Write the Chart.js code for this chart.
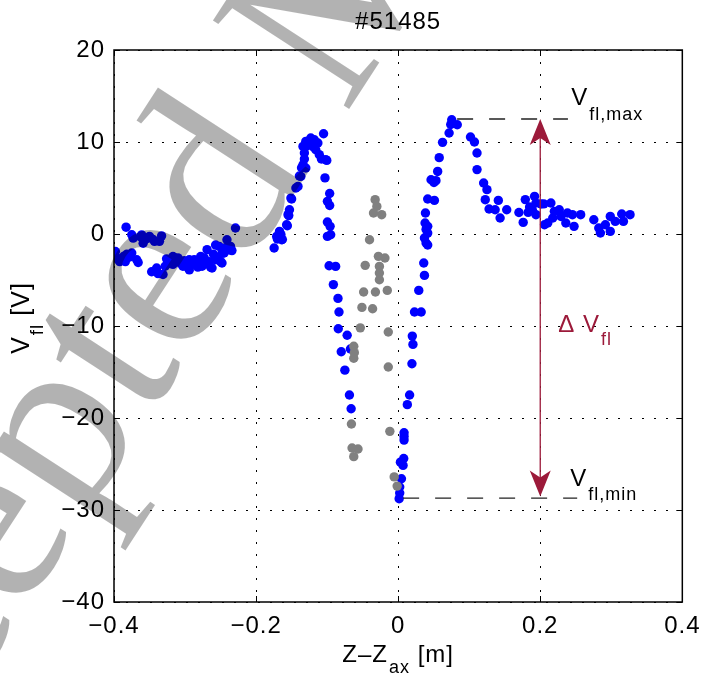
<!DOCTYPE html>
<html><head><meta charset="utf-8">
<script src="https://cdn.jsdelivr.net/npm/chart.js@4.4.0/dist/chart.umd.min.js"></script>
<style>html,body{margin:0;padding:0;background:#fff;overflow:hidden}#wrap{width:709px;height:674px}</style>
</head><body><div id="wrap"><canvas id="c" width="709" height="674"></canvas></div>
<script>
// ---- data ----
const shotTitle = '#51485';
const xTickValues = [-0.4, -0.2, 0, 0.2, 0.4];
const xTickLabels = ['\u22120.4', '\u22120.2', '0', '0.2', '0.4'];
const yTickValues = [-40, -30, -20, -10, 0, 10, 20];
const yTickLabels = ['\u221240', '\u221230', '\u221220', '\u221210', '0', '10', '20'];

const blueZ = [
 -0.398,-0.396,-0.394,-0.392,-0.386,-0.384,-0.383,-0.382,-0.378,-0.375,-0.375,-0.373,-0.368,-0.366,-0.363,-0.361,-0.359,-0.354,-0.350,-0.347,
 -0.345,-0.343,-0.340,-0.338,-0.336,-0.333,-0.331,-0.328,-0.326,-0.324,-0.321,-0.317,-0.315,-0.317,-0.312,-0.310,-0.308,-0.306,-0.303,-0.301,
 -0.299,-0.296,-0.294,-0.294,-0.290,-0.287,-0.285,-0.282,-0.280,-0.278,-0.276,-0.273,-0.270,-0.269,-0.266,-0.264,-0.262,-0.260,-0.257,-0.257,
 -0.255,-0.252,-0.250,-0.248,-0.248,-0.245,-0.243,-0.241,-0.238,-0.236,-0.234,-0.229,
 -0.1746,-0.171,-0.170,-0.167,-0.165,-0.164,-0.163,-0.157,-0.156,-0.155,-0.154,-0.153,-0.151,-0.150,-0.144,-0.141,-0.139,-0.137,-0.136,-0.134,
 -0.134,-0.132,-0.132,-0.130,-0.130,-0.130,-0.126,-0.123,-0.118,-0.120,-0.116,-0.113,-0.111,-0.108,-0.105,-0.102,-0.1005,
 -0.103,-0.0964,-0.0996,-0.0964,-0.0996,-0.0958,-0.0996,-0.095,-0.0972,-0.088,-0.0912,-0.0847,-0.0833,-0.0843,-0.0718,-0.0801,-0.0672,-0.075,-0.0686,-0.0662,
 0.0014,0.0022,0.0022,0.0046,0.0069,0.0032,0.0078,0.0083,0.0083,0.0083,0.0129,0.0161,0.0194,0.0208,0.0199,0.023,0.0324,0.029,0.037,0.036,
 0.0416,0.0393,0.037,0.0416,0.0393,0.0416,0.0379,0.0384,0.0416,0.051,0.0463,0.0532,0.0504,0.0556,0.0578,0.0625,0.0717,0.0740,0.0754,0.0832,
 0.1018,0.1074,0.111,0.111,0.1203,0.125,0.1226,0.141,0.128,0.1365,0.1528,0.1435,
 0.170,0.176,0.179,0.185,0.183,0.189,0.192,0.194,0.201,0.194,0.205,0.206,0.2106,0.215,0.2199,0.2268,0.2176,0.2292,0.2383,0.236,
 0.2476,0.2453,0.2569,0.2754,0.2824,0.2847,0.2917,0.2986,0.2986,0.3056,0.3147,0.3171,0.3264
];
const blueV = [
 -1.9,-2.6,-2.8,-3.0,-2.4,-3.0,0.74,-2.2,-2.5,-2.07,-0.08,-0.45,-2.8,-3.1,-0.3,-0.1,-1.0,-0.5,-0.26,-4.1,
 -0.6,-0.8,-3.7,-4.3,-0.8,-0.2,-4.4,-3.5,-2.7,-2.8,-3.2,-2.45,-2.6,-3.3,-3.0,-2.6,-3.0,-3.2,-3.5,-2.9,
 -3.5,-3.0,-3.9,-2.8,-3.3,-2.8,-3.3,-3.6,-3.1,-2.45,-3.5,-2.6,-3.2,-1.7,-3.0,-3.6,-3.7,-2.2,-1.2,-2.8,
 -2.6,-1.35,-3.0,-2.1,-3.15,-2.07,-1.5,-0.62,-1.71,-1.35,-1.8,0.65,
 -1.52,-0.26,-0.54,0.28,-0.07,-0.62,-0.6,1.0,0.9,2.1,2.0,2.64,3.9,3.8,5.0,5.17,6.3,6.26,7.2,7.53,
 9.52,8.8,8.15,7.17,9.5,10.07,10.1,10.43,10.25,9.5,9.16,9.89,8.62,8.15,10.9,8.08,8.0,
 6.1,4.4,3.55,3.1,1.3,0.83,-0.26,-0.08,-3.45,-3.52,-5.5,-7.0,-8.48,-10.3,-11.0,-12.8,-12.5,-14.8,-17.5,-19.0,
 -28.77,-28.15,-27.5,-26.6,-25.15,-24.8,-24.4,-22.4,-22.0,-21.6,-18.55,-17.5,-14.1,-12.0,-11.1,-8.48,-8.48,-6.13,-4.5,-3.15,
 -1.2,-0.98,-0.43,0.1,0.5,0.83,1.2,2.28,3.8,3.65,5.9,5.8,5.6,6.8,8.3,9.96,10.98,11.9,12.42,11.88,
 10.54,10.0,8.8,7.0,5.54,4.82,3.73,3.65,2.72,2.64,2.64,1.74,
 2.34,1.26,3.74,2.93,2.35,2.57,4.09,3.37,3.26,2.1,3.27,1.01,1.2,3.37,2.46,2.64,1.74,1.91,2.28,1.2,
 0.83,2.1,2.1,1.55,0.65,0.11,1.0,1.91,0.28,1.37,2.17,1.37,2.1
];
const grayZ = [-0.0658,-0.0649,-0.0565,-0.0625,-0.0625,-0.0617,-0.0625,-0.0533,-0.051,-0.036,-0.0486,-0.032,-0.0153,-0.0464,-0.0278,
 -0.0186,-0.0264,-0.0264,-0.0264,-0.0403,-0.0324,-0.030,-0.0347,-0.0232,-0.0139,-0.0139,-0.0117,-0.0056,-0.0014];
const grayV = [-20.65,-23.26,-23.37,-24.2,-12.2,-12.9,-13.5,-10.2,-7.98,-8.12,-6.3,-6.3,-6.13,-3.41,-2.43,
 -2.61,-3.52,-4.24,-4.97,-0.62,3.73,3.0,2.28,2.1,-10.65,-14.46,-21.45,-26.4,-27.4];

const vflMaxValue = 12.5;
const vflMinValue = -28.7;
const maxLineZ = [0.083, 0.239];
const minLineZ = [0.007, 0.252];
const arrowZ = 0.2;
const watermarkText = 'Accepted Manuscript';

// ---- styles ----
const FONT = '"Liberation Sans", Arial, sans-serif';
const SERIF = '"Liberation Serif", Tinos, "Times New Roman", Times, "DejaVu Serif", "Noto Serif", FreeSerif, serif';
const MAROON = '#9c1a3a';

function pts(xs, ys) { return xs.map((x, i) => ({ x: x, y: ys[i] })); }

function drawSub(ctx, x, y, main, sub, rest, size, subSize, drop) {
  ctx.font = size + 'px ' + FONT;
  ctx.fillText(main, x, y);
  x += ctx.measureText(main).width;
  ctx.font = subSize + 'px ' + FONT;
  ctx.fillText(sub, x + 1, y + drop);
  x += ctx.measureText(sub).width + 1;
  if (rest) { ctx.font = size + 'px ' + FONT; ctx.fillText(rest, x, y); }
}
function subWidth(ctx, main, sub, rest, size, subSize) {
  ctx.font = size + 'px ' + FONT;
  let w = ctx.measureText(main).width + (rest ? ctx.measureText(rest).width : 0);
  ctx.font = subSize + 'px ' + FONT;
  return w + ctx.measureText(sub).width + 1;
}

const overlay = {
  id: 'overlay',
  beforeDraw(chart) { chart.ctx.letterSpacing = '1px'; },
  afterDatasetsDraw(chart) {
    const { ctx, chartArea: a, scales: { x, y } } = chart;
    ctx.save();
    ctx.setLineDash([]);
    ctx.strokeStyle = '#000';
    ctx.lineWidth = 1;
    ctx.beginPath();
    xTickValues.forEach(v => {
      const px = Math.round(x.getPixelForValue(v)) + 0.5;
      ctx.moveTo(px, a.bottom); ctx.lineTo(px, a.bottom - 6);
      ctx.moveTo(px, a.top); ctx.lineTo(px, a.top + 6);
    });
    yTickValues.forEach(v => {
      const py = Math.round(y.getPixelForValue(v)) + 0.5;
      ctx.moveTo(a.left, py); ctx.lineTo(a.left + 6, py);
      ctx.moveTo(a.right, py); ctx.lineTo(a.right - 6, py);
    });
    ctx.stroke();
    ctx.lineWidth = 1.5;
    ctx.strokeRect(a.left, a.top, a.right - a.left, a.bottom - a.top);

    ctx.strokeStyle = '#222';
    ctx.lineWidth = 1.3;
    ctx.setLineDash([16, 16]);
    const yMax = y.getPixelForValue(vflMaxValue), yMin = y.getPixelForValue(vflMinValue);
    ctx.beginPath();
    ctx.moveTo(x.getPixelForValue(maxLineZ[0]), yMax); ctx.lineTo(x.getPixelForValue(maxLineZ[1]), yMax);
    ctx.moveTo(x.getPixelForValue(minLineZ[0]), yMin); ctx.lineTo(x.getPixelForValue(minLineZ[1]), yMin);
    ctx.stroke();
    ctx.setLineDash([]);

    const ax = x.getPixelForValue(arrowZ);
    ctx.strokeStyle = MAROON; ctx.fillStyle = MAROON; ctx.lineWidth = 1.3;
    ctx.beginPath(); ctx.moveTo(ax, yMax + 15); ctx.lineTo(ax, yMin - 15); ctx.stroke();
    function head(tx, ty, s) {
      ctx.beginPath(); ctx.moveTo(tx, ty); ctx.lineTo(tx + 10.5, ty + 26 * s);
      ctx.lineTo(tx, ty + 19 * s); ctx.lineTo(tx - 10.5, ty + 26 * s); ctx.closePath(); ctx.fill();
    }
    head(ax, yMax, 1);
    head(ax, yMin - 1.5, -1);
    ctx.restore();
  },
  afterDraw(chart) {
    const { ctx, chartArea: a, scales: { x, y } } = chart;
    ctx.save();
    ctx.fillStyle = '#000';
    ctx.textAlign = 'left';
    ctx.textBaseline = 'alphabetic';
    const cx = (a.left + a.right) / 2;
    ctx.font = '24px ' + FONT;
    ctx.textAlign = 'center';
    ctx.fillText(shotTitle, cx, 29);
    ctx.textAlign = 'left';
    let w = subWidth(ctx, 'Z\u2013Z', 'ax', ' [m]', 24, 18);
    drawSub(ctx, cx - w / 2, 662, 'Z\u2013Z', 'ax', ' [m]', 24, 18, 11);
    ctx.save();
    ctx.translate(29, (a.top + a.bottom) / 2 - 8);
    ctx.rotate(-Math.PI / 2);
    w = subWidth(ctx, 'V', 'fl', ' [V]', 25, 19);
    drawSub(ctx, -w / 2, 0, 'V', 'fl', ' [V]', 25, 19, 14);
    ctx.restore();
    const ax = x.getPixelForValue(arrowZ);
    const yMax = y.getPixelForValue(vflMaxValue), yMin = y.getPixelForValue(vflMinValue);
    drawSub(ctx, ax + 31, yMax - 14, 'V', 'fl,max', '', 24, 18, 15);
    drawSub(ctx, ax + 30, yMin - 12, 'V', 'fl,min', '', 24, 18, 14);
    ctx.fillStyle = MAROON;
    drawSub(ctx, ax + 18, y.getPixelForValue(-10.7), '\u0394 V', 'fl', '', 24, 18, 13);

    // watermark
    ctx.letterSpacing = '0px';
    const wmSize = 248;
    ctx.font = wmSize + 'px ' + SERIF;
    ctx.fillStyle = 'rgba(0,0,0,0.3)';
    const along = ctx.measureText('Accept').width + ctx.measureText('e').width / 2;
    ctx.translate(160, 282);
    ctx.rotate(-57 * Math.PI / 180);
    ctx.fillText(watermarkText, -along, 0.26 * wmSize);
    ctx.restore();
  }
};

new Chart(document.getElementById('c').getContext('2d'), {
  type: 'scatter',
  data: {
    datasets: [
      { label: 'gray', data: pts(grayZ, grayV), backgroundColor: '#808080', borderWidth: 0, pointRadius: 4.7, pointHoverRadius: 4.7 },
      { label: 'blue', data: pts(blueZ, blueV), backgroundColor: '#0000ff', borderWidth: 0, pointRadius: 4.7, pointHoverRadius: 4.7 }
    ]
  },
  options: {
    responsive: false, animation: false, devicePixelRatio: 1, events: [],
    layout: { padding: { top: 50, right: 18, left: 0, bottom: 0 } },
    plugins: { legend: { display: false }, tooltip: { enabled: false }, title: { display: false } },
    scales: {
      x: {
        type: 'linear', min: -0.4, max: 0.4,
        afterBuildTicks: s => { s.ticks = xTickValues.map(v => ({ value: v })); },
        afterFit: s => { s.height = 72; },
        ticks: { callback: (v, i) => xTickLabels[i], color: '#000', font: { family: FONT, size: 24 }, padding: 10, maxRotation: 0, autoSkip: false },
        grid: { color: '#000', lineWidth: 1, drawTicks: false },
        border: { display: false, dash: [2, 10] }
      },
      y: {
        type: 'linear', min: -40, max: 20,
        afterBuildTicks: s => { s.ticks = yTickValues.map(v => ({ value: v })); },
        afterFit: s => { s.width = 114; },
        ticks: { callback: (v, i) => yTickLabels[i], color: '#000', font: { family: FONT, size: 24 }, padding: 9, autoSkip: false },
        grid: { color: '#000', lineWidth: 1, drawTicks: false },
        border: { display: false, dash: [2, 10] }
      }
    }
  },
  plugins: [overlay]
});
</script></body></html>
